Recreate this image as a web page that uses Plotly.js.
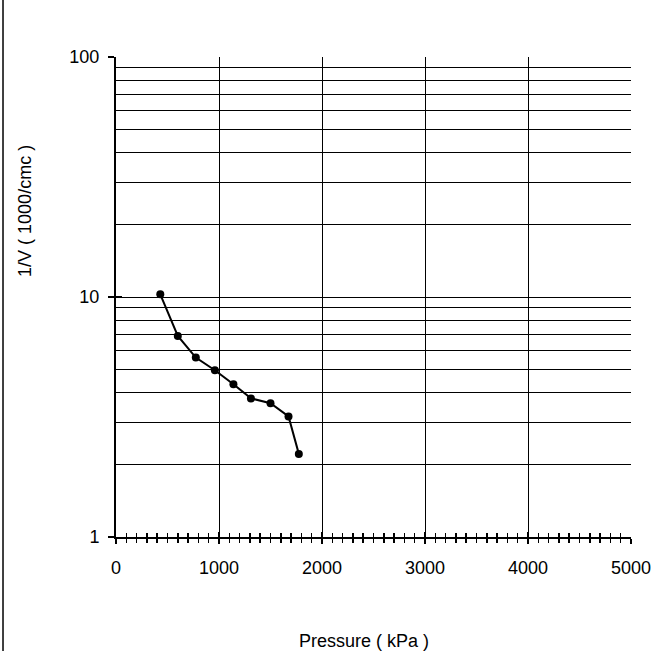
<!DOCTYPE html>
<html>
<head>
<meta charset="utf-8">
<script src="https://cdn.plot.ly/plotly-3.0.1.min.js"></script>
<style>
  html, body { margin: 0; padding: 0; background: #fff; }
  #chart { width: 652px; height: 651px; }
</style>
</head>
<body>
<div id="chart"></div>
<script>
// Data
const pressure = [430, 600, 775, 960, 1140, 1310, 1500, 1675, 1775];
const invVolume = [10.26, 6.88, 5.59, 4.95, 4.33, 3.78, 3.61, 3.18, 2.22];
const xTickVals = [0, 1000, 2000, 3000, 4000, 5000];
const yTickVals = [1, 10, 100];
const yTickText = ['1', '10', '100'];
const xTitle = 'Pressure ( kPa )';
const yTitle = '1/V ( 1000/cmc )';

const font = { family: 'Liberation Sans, Arial, sans-serif', size: 18, color: '#000' };

const traces = [
  {
    x: pressure, y: invVolume, type: 'scatter', mode: 'lines+markers',
    line: { color: '#000', width: 2 },
    marker: { color: '#000', size: 8 },
    xaxis: 'x', yaxis: 'y', hoverinfo: 'skip'
  },
  { x: [], y: [], type: 'scatter', mode: 'markers', xaxis: 'x2', yaxis: 'y2', hoverinfo: 'skip' }
];

const layout = {
  width: 652, height: 651,
  margin: { l: 116, r: 21, t: 57, b: 114 },
  paper_bgcolor: '#fff', plot_bgcolor: '#fff',
  showlegend: false,
  font: font,
  xaxis: {
    range: [0, 5000], tickvals: xTickVals, ticktext: xTickVals.map(String),
    showgrid: true, gridcolor: '#000', gridwidth: 1,
    zeroline: false, showline: true, linecolor: '#000', linewidth: 2,
    ticks: 'outside', ticklen: 5, tickwidth: 2, tickcolor: '#000',
    ticklabelstandoff: 8,
    minor: { dtick: 100, ticks: 'outside', ticklen: 4, tickwidth: 1.5, tickcolor: '#000', showgrid: false },
    tickfont: font, fixedrange: true
  },
  yaxis: {
    type: 'log', range: [0, 2], tickvals: yTickVals, ticktext: yTickText,
    showgrid: true, gridcolor: '#000', gridwidth: 1,
    zeroline: false, showline: true, linecolor: '#000', linewidth: 2,
    ticks: 'outside', ticklen: 6, tickwidth: 2, tickcolor: '#000',
    ticklabelstandoff: 5,
    minor: { dtick: 'D1', ticks: '', showgrid: true, gridcolor: '#000', gridwidth: 1 },
    tickfont: font, fixedrange: true
  },
  xaxis2: {
    overlaying: 'x', anchor: 'y2', side: 'bottom', range: [0, 5000], tickvals: xTickVals,
    showgrid: false, zeroline: false, showline: false, showticklabels: false,
    ticks: 'inside', ticklen: 5, tickwidth: 2, tickcolor: '#000',
    minor: { dtick: 100, ticks: 'inside', ticklen: 4, tickwidth: 1.5, tickcolor: '#000', showgrid: false },
    fixedrange: true
  },
  yaxis2: {
    overlaying: 'y', anchor: 'x2', side: 'left', type: 'log', range: [0, 2], tickvals: yTickVals,
    showgrid: false, zeroline: false, showline: false, showticklabels: false,
    ticks: 'inside', ticklen: 6, tickwidth: 2, tickcolor: '#000',
    fixedrange: true
  },
  annotations: [
    { text: xTitle, xref: 'paper', yref: 'paper', x: 0.4806, y: -0.2167,
      xanchor: 'center', yanchor: 'middle', showarrow: false, font: font },
    { text: yTitle, xref: 'paper', yref: 'paper', x: -0.177, y: 0.679, textangle: -90,
      xanchor: 'center', yanchor: 'middle', showarrow: false, font: font }
  ],
  shapes: [
    { type: 'line', xref: 'paper', yref: 'paper', x0: -0.2194, x1: -0.2194, y0: -0.25, y1: 1.13,
      line: { color: '#000', width: 1.5 } }
  ]
};

Plotly.newPlot('chart', traces, layout, { staticPlot: true, displayModeBar: false });
</script>
</body>
</html>
